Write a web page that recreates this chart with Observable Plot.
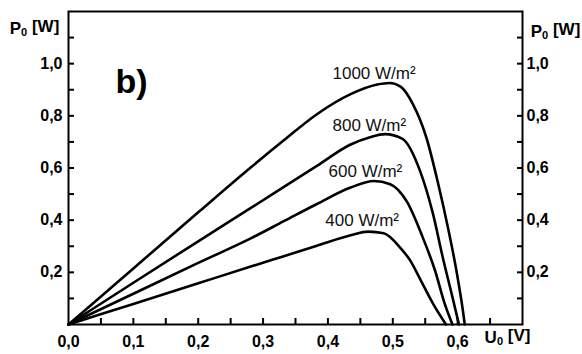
<!DOCTYPE html>
<html><head><meta charset="utf-8">
<script src="https://cdn.jsdelivr.net/npm/d3@7"></script>
<script src="https://cdn.jsdelivr.net/npm/@observablehq/plot@0.6"></script>
<style>body{margin:0;background:#fff;}</style>
</head><body><div id="chart"></div>
<script>
// Irradiance levels
const irradiance = ["1000 W/m²", "800 W/m²", "600 W/m²", "400 W/m²"];
// Curve values: U0 [V] and P0 [W]
const u1000 = [0, 0.1, 0.2, 0.28, 0.332, 0.383, 0.435, 0.476, 0.495, 0.512, 0.531, 0.552, 0.569, 0.585, 0.598, 0.608, 0.611];
const p1000 = [0, 0.215, 0.43, 0.6, 0.706, 0.806, 0.883, 0.92, 0.926, 0.912, 0.845, 0.715, 0.55, 0.372, 0.208, 0.055, 0];
const u800 = [0, 0.1, 0.2, 0.28, 0.383, 0.435, 0.465, 0.488, 0.515, 0.542, 0.562, 0.577, 0.592, 0.602];
const p800 = [0, 0.16, 0.319, 0.445, 0.608, 0.69, 0.718, 0.73, 0.712, 0.589, 0.424, 0.258, 0.105, 0];
const u600 = [0, 0.1, 0.2, 0.281, 0.332, 0.383, 0.435, 0.471, 0.496, 0.522, 0.546, 0.565, 0.58, 0.592];
const p600 = [0, 0.118, 0.236, 0.33, 0.396, 0.462, 0.525, 0.55, 0.538, 0.47, 0.335, 0.208, 0.08, 0];
const u400 = [0, 0.1, 0.2, 0.281, 0.332, 0.383, 0.435, 0.462, 0.486, 0.512, 0.527, 0.542, 0.562, 0.582];
const p400 = [0, 0.079, 0.158, 0.222, 0.262, 0.302, 0.342, 0.356, 0.35, 0.293, 0.245, 0.175, 0.08, 0];
// Curve label anchors (data coords)
const labelU = [0.407, 0.407, 0.401, 0.396];
const labelP = [0.964, 0.761, 0.585, 0.398];
// Ticks
const xTickLabels = [0, 0.1, 0.2, 0.3, 0.4, 0.5, 0.6];
const xMinorTicks = [0.05, 0.1, 0.15, 0.2, 0.25, 0.3, 0.35, 0.4, 0.45, 0.5, 0.55, 0.6, 0.65];
const yTickLabels = [0.2, 0.4, 0.6, 0.8, 1.0];
const yMinorTicks = [0.1, 0.2, 0.3, 0.4, 0.5, 0.6, 0.7, 0.8, 0.9, 1.0, 1.1];

const us = [u1000, u800, u600, u400];
const ps = [p1000, p800, p600, p400];
const rows = [];
irradiance.forEach((g, k) => us[k].forEach((u, i) => rows.push({g, u, p: ps[k][i]})));
const labels = irradiance.map((g, k) => ({g, u: labelU[k], p: labelP[k]}));
const fmt = d => d.toFixed(1).replace(".", ",");

const svg = Plot.plot({
  width: 582, height: 354,
  marginLeft: 68, marginRight: 60, marginTop: 11, marginBottom: 30,
  style: {fontFamily: "'Liberation Sans', Arial, sans-serif", fontSize: "16px", fontWeight: "bold", color: "#000", background: "#fff"},
  x: {domain: [0, 0.7], label: null},
  y: {domain: [0, 1.2], label: null},
  marks: [
    Plot.line(rows, {x: "u", y: "p", z: "g", curve: "monotone-x", stroke: "#000", strokeWidth: 2.6}),
    Plot.text(labels, {x: "u", y: "p", text: "g", textAnchor: "start", fontWeight: "normal", fontSize: 17, fill: "#111"}),
    Plot.axisX(xMinorTicks, {tickSize: -6, tickFormat: () => "", strokeWidth: 2, label: null}),
    Plot.axisX(xTickLabels, {tickSize: 0, tickPadding: 11, tickFormat: fmt, fontSize: 16, fontWeight: "bold", label: null}),
    Plot.axisY(yMinorTicks, {anchor: "left", tickSize: -6, tickFormat: () => "", strokeWidth: 2, label: null}),
    Plot.axisY(yMinorTicks, {anchor: "right", tickSize: -6, tickFormat: () => "", strokeWidth: 2, label: null}),
    Plot.axisY(yTickLabels, {anchor: "left", tickSize: 0, tickPadding: 6, tickFormat: fmt, fontSize: 16, fontWeight: "bold", label: null}),
    Plot.axisY(yTickLabels, {anchor: "right", tickSize: 0, tickPadding: 4, tickFormat: fmt, fontSize: 16, fontWeight: "bold", label: null}),
    Plot.frame({stroke: "#000", strokeWidth: 2}),
    Plot.text(["P₀ [W]"], {frameAnchor: "top-left", dx: -34, dy: 10, textAnchor: "middle", fontSize: 17, fontWeight: "bold"}),
    Plot.text(["P₀ [W]"], {frameAnchor: "top-right", dx: 33, dy: 13, textAnchor: "middle", fontSize: 17, fontWeight: "bold"}),
    Plot.text(["U₀ [V]"], {frameAnchor: "bottom-right", dx: -15, dy: 18, textAnchor: "middle", fontSize: 17, fontWeight: "bold"}),
    Plot.text(["b)"], {frameAnchor: "top-left", dx: 47, dy: 57, textAnchor: "start", fontSize: 34, fontWeight: "bold"})
  ]
});

d3.select(svg).selectAll("text").each(function() {
  const t = this.textContent;
  if (t.includes("₀")) {
    const [a, b] = t.split("₀");
    const sel = d3.select(this);
    sel.text(null);
    sel.append("tspan").text(a);
    sel.append("tspan").attr("font-size", "0.65em").attr("dy", "0.25em").text("0");
    sel.append("tspan").attr("dy", "-0.25em").text(b);
  }
});

document.getElementById("chart").appendChild(svg);
</script>
</body></html>
